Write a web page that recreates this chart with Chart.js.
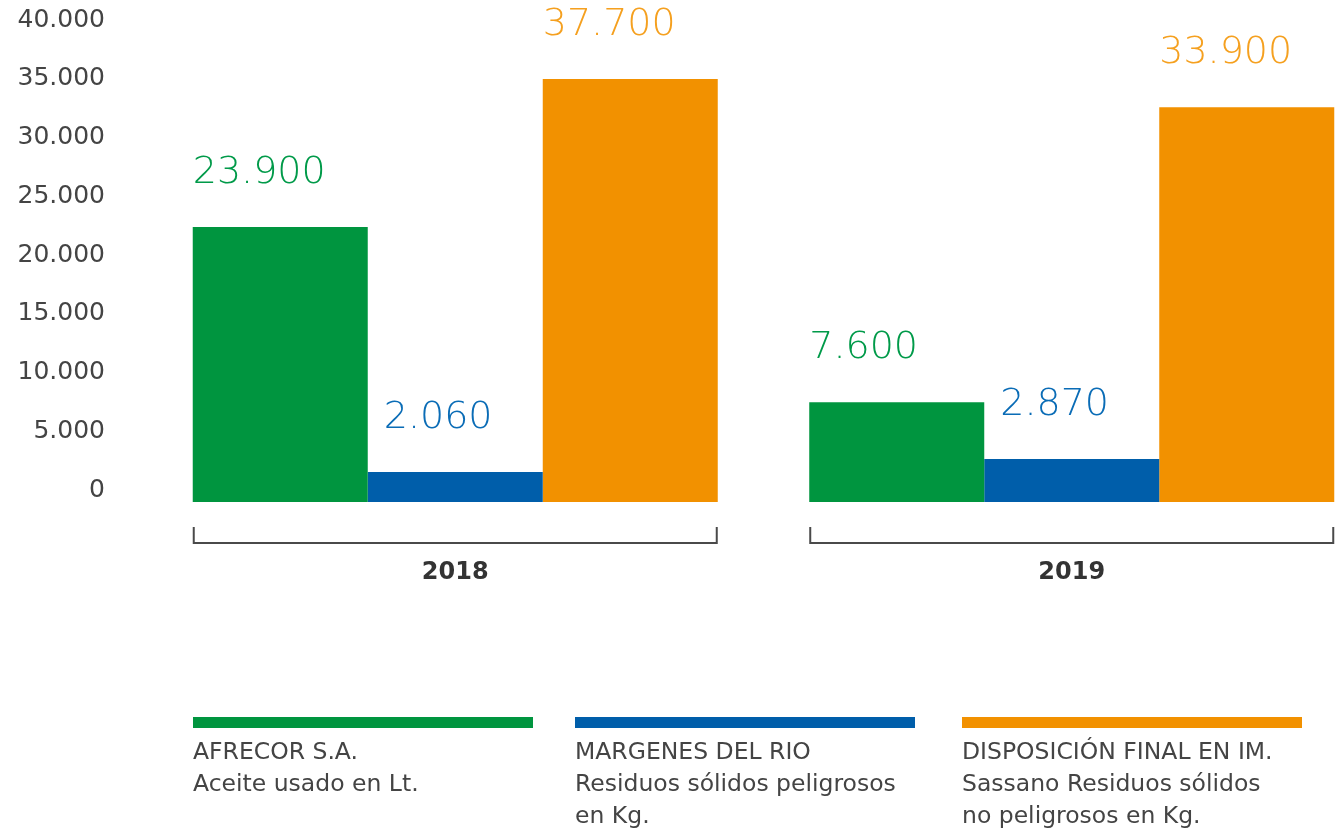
<!DOCTYPE html>
<html lang="es">
<head>
<meta charset="utf-8">
<script src="https://cdn.jsdelivr.net/npm/chart.js@4"></script>
<style>
  html, body { margin: 0; padding: 0; background: #fff; overflow: hidden; }
  #wrap { position: relative; width: 1380px; height: 829px; }
  #leyenda {
    position: absolute; left: 193px; top: 717px;
    display: grid; grid-template-columns: 382px 387px 380px;
    font-family: "DejaVu Sans", sans-serif; font-size: 23.5px; color: #444;
  }
  .barra { width: 340px; height: 11px; margin-bottom: 7px; }
  .linea { line-height: 32px; white-space: nowrap; }
</style>
</head>
<body>
<div id="wrap">
  <canvas id="residuos" width="1380" height="829"></canvas>
  <div id="leyenda"></div>
</div>
<script>
// categorias
const anios = ['2018', '2019'];

// altura de cada barra tal como se ve en el grafico
const afrecor = [23400, 8500];
const margenes = [2550, 3650];
const disposicion = [36000, 33600];

// cifras que se escriben arriba de cada barra
const rotulosAfrecor = [23900, 7600];
const rotulosMargenes = [2060, 2870];
const rotulosDisposicion = [37700, 33900];

// ticks del eje y
const ticksY = [0, 5000, 10000, 15000, 20000, 25000, 30000, 35000, 40000];

const nombres = [
  ['AFRECOR S.A.', 'Aceite usado en Lt.'],
  ['MARGENES DEL RIO', 'Residuos sólidos peligrosos', 'en Kg.'],
  ['DISPOSICIÓN FINAL EN IM.', 'Sassano Residuos sólidos', 'no peligrosos en Kg.']
];

const coloresBarra = ['#00953f', '#005eaa', '#f29100'];
const coloresTexto = ['#009a49', '#0a6cb6', '#f5a01f'];
const corrimiento = [0, 16, 0]; // el rotulo azul arranca un poco a la derecha

const fmt = v => v.toLocaleString('es-AR');

// rotulos de valor arriba de las barras
const rotulosPlugin = {
  id: 'rotulos',
  afterDatasetsDraw(chart) {
    const ctx = chart.ctx;
    const todos = [rotulosAfrecor, rotulosMargenes, rotulosDisposicion];
    ctx.save();
    ctx.font = '300 38px "DejaVu Sans", sans-serif';
    ctx.textAlign = 'left';
    ctx.textBaseline = 'middle';
    chart.data.datasets.forEach((ds, i) => {
      chart.getDatasetMeta(i).data.forEach((bar, j) => {
        ctx.fillStyle = coloresTexto[i];
        ctx.fillText(fmt(todos[i][j]), bar.x - bar.width / 2 + corrimiento[i], bar.y - 54);
      });
    });
    ctx.restore();
  }
};

// corchete y año debajo de cada grupo
const corchetePlugin = {
  id: 'corchete',
  afterDraw(chart) {
    const ctx = chart.ctx;
    const primero = chart.getDatasetMeta(0).data;
    const ultimo = chart.getDatasetMeta(chart.data.datasets.length - 1).data;
    const y = chart.chartArea.bottom + 41;
    ctx.save();
    ctx.strokeStyle = '#4a4a4a';
    ctx.lineWidth = 2;
    ctx.fillStyle = '#333';
    ctx.font = 'bold 24px "DejaVu Sans", sans-serif';
    ctx.textAlign = 'center';
    ctx.textBaseline = 'middle';
    anios.forEach((anio, j) => {
      const x0 = primero[j].x - primero[j].width / 2 + 1;
      const x1 = ultimo[j].x + ultimo[j].width / 2 - 1;
      ctx.beginPath();
      ctx.moveTo(x0, y - 16);
      ctx.lineTo(x0, y);
      ctx.lineTo(x1, y);
      ctx.lineTo(x1, y - 16);
      ctx.stroke();
      ctx.fillText(anio, (x0 + x1) / 2, y + 30);
    });
    ctx.restore();
  }
};

const ctx = document.getElementById('residuos').getContext('2d');
new Chart(ctx, {
  type: 'bar',
  data: {
    labels: anios,
    datasets: [
      { label: nombres[0].join(' '), data: afrecor, backgroundColor: coloresBarra[0] },
      { label: nombres[1].join(' '), data: margenes, backgroundColor: coloresBarra[1] },
      { label: nombres[2].join(' '), data: disposicion, backgroundColor: coloresBarra[2] }
    ]
  },
  options: {
    responsive: false,
    animation: false,
    layout: { padding: { top: 32, bottom: 327, left: 0, right: 0 } },
    datasets: { bar: { categoryPercentage: 0.8516, barPercentage: 1.0 } },
    plugins: {
      legend: { display: false },
      tooltip: { enabled: false }
    },
    scales: {
      x: { display: false },
      y: {
        min: 0,
        max: 40000,
        afterBuildTicks: axis => { axis.ticks = ticksY.map(v => ({ value: v })); },
        afterFit: axis => {
          axis.width = 147;
          // el padding de los ticks no debe achicar el area vertical
          axis.paddingTop = 0;
          axis.paddingBottom = 0;
        },
        grid: { display: false, drawTicks: false },
        border: { display: false },
        ticks: {
          padding: 42,
          labelOffset: -12,
          color: '#444',
          font: { family: '"DejaVu Sans", sans-serif', size: 25 },
          callback: v => fmt(v)
        }
      }
    }
  },
  plugins: [rotulosPlugin, corchetePlugin]
});

// leyenda con barra de color y texto
const leyenda = document.getElementById('leyenda');
nombres.forEach((lineas, i) => {
  const item = document.createElement('div');
  const barra = document.createElement('div');
  barra.className = 'barra';
  barra.style.background = coloresBarra[i];
  item.appendChild(barra);
  lineas.forEach(t => {
    const l = document.createElement('div');
    l.className = 'linea';
    l.textContent = t;
    item.appendChild(l);
  });
  leyenda.appendChild(item);
});
</script>
</body>
</html>
